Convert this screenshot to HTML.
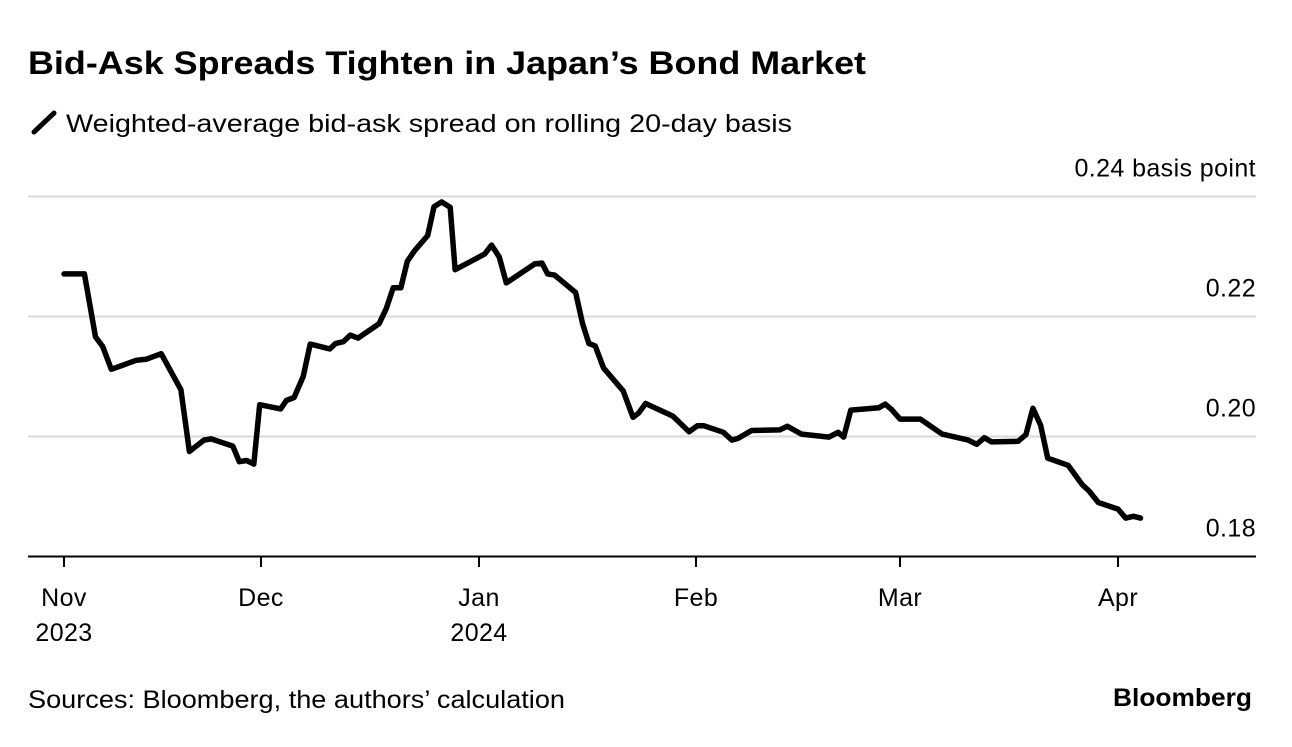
<!DOCTYPE html>
<html><head><meta charset="utf-8"><style>
body{margin:0;width:1292px;height:742px;background:#fff;overflow:hidden;font-family:"Liberation Sans",Arial,sans-serif}
</style></head><body>
<svg width="1292" height="742" font-family="Liberation Sans, Arial, sans-serif">
<text x="28" y="74" font-size="32" font-weight="bold" fill="#000" textLength="838" lengthAdjust="spacingAndGlyphs">Bid-Ask Spreads Tighten in Japan’s Bond Market</text>
<line x1="34" y1="132" x2="54" y2="113" stroke="#000" stroke-width="5" stroke-linecap="round"/>
<text x="66" y="132" font-size="25" fill="#000" textLength="726" lengthAdjust="spacingAndGlyphs">Weighted-average bid-ask spread on rolling 20-day basis</text>
<g id="grid"></g>
<g id="xaxis"></g>
<path id="line" fill="none" stroke="#000" stroke-width="5.5" stroke-linejoin="round" stroke-linecap="round"/>
<text x="28" y="708" font-size="25" fill="#000" textLength="537" lengthAdjust="spacingAndGlyphs">Sources: Bloomberg, the authors’ calculation</text>
<text x="1113" y="706" font-size="25" font-weight="bold" fill="#000" textLength="139" lengthAdjust="spacingAndGlyphs">Bloomberg</text>
</svg>
<script>
const days=[0,3.1,4.8,5.9,7.2,11.0,12.6,14.8,17.8,19.1,21.3,22.4,25.7,26.7,27.8,28.9,29.8,32.8,33.6,34.7,36.0,37.0,39.8,40.6,41.7,42.7,43.8,46.8,47.8,48.8,49.9,50.8,51.8,53.7,54.6,55.7,56.9,57.6,61.8,62.8,63.9,64.9,69.0,70.0,70.8,71.8,74.8,75.8,76.7,77.6,78.8,81.6,83.0,83.8,84.8,88.7,91.0,92.2,93.1,95.9,97.1,98.0,99.9,103.9,105.0,107.0,110.9,112.2,113.0,114.0,118.0,118.9,119.8,121.0,123.9,127.0,130.7,131.9,133.0,134.0,137.8,138.9,139.9,141.0,142.0,144.9,146.9,147.9,149.2,152.0,153.1,154.2,155.2];
const values=[0.2271,0.2271,0.2166,0.2150,0.2112,0.2127,0.2129,0.2138,0.2078,0.1975,0.1994,0.1996,0.1984,0.1958,0.1960,0.1954,0.2053,0.2046,0.2060,0.2065,0.2100,0.2154,0.2146,0.2155,0.2158,0.2169,0.2164,0.2188,0.2213,0.2248,0.2248,0.2292,0.2309,0.2335,0.2383,0.2391,0.2382,0.2278,0.2304,0.2319,0.2299,0.2256,0.2288,0.2289,0.2271,0.2269,0.2240,0.2188,0.2155,0.2151,0.2114,0.2076,0.2032,0.2039,0.2055,0.2034,0.2008,0.2018,0.2018,0.2007,0.1994,0.1997,0.2010,0.2011,0.2017,0.2004,0.1999,0.2007,0.1999,0.2044,0.2048,0.2054,0.2045,0.2029,0.2029,0.2004,0.1994,0.1987,0.1998,0.1991,0.1992,0.2003,0.2047,0.2019,0.1964,0.1952,0.1920,0.1909,0.1890,0.1879,0.1864,0.1867,0.1864];
const yTicks=[0.18,0.20,0.22,0.24];
const yLabels=["0.18","0.20","0.22","0.24 basis point"];
const monthDays=[0,30,61,92,121,152];
const monthLabels=["Nov","Dec","Jan","Feb","Mar","Apr"];
const yearLabels=["2023","","2024","","",""];
const monthPx=[64,261,479,696,900,1118];
const NS="http://www.w3.org/2000/svg";
function X(d){for(let i=0;i<monthDays.length-1;i++){if(d<=monthDays[i+1]||i==monthDays.length-2){const t=(d-monthDays[i])/(monthDays[i+1]-monthDays[i]);return monthPx[i]+t*(monthPx[i+1]-monthPx[i]);}}}
function Y(v){return 556.5-(v-0.18)/0.02*120;}
function mk(tag,attrs,parent){const e=document.createElementNS(NS,tag);for(const k in attrs)e.setAttribute(k,attrs[k]);parent.appendChild(e);return e;}
const grid=document.getElementById('grid');
yTicks.forEach((v,i)=>{
 if(i>0){const l=mk('line',{x1:28,x2:1256,y1:Y(v),y2:Y(v),stroke:'#d9d9d9','stroke-width':2},grid);
 
 }
 const t=mk('text',{x:1256,y:Y(v)-20,'font-size':25,'text-anchor':'end',fill:'#000','letter-spacing':'0.4'},grid);
 t.textContent=yLabels[i];
 
 
});
const xa=document.getElementById('xaxis');
const ax=mk('line',{x1:28,x2:1256,y1:556.5,y2:556.5,stroke:'#000','stroke-width':2},xa);


monthDays.forEach((d,i)=>{
 const x=X(d);
 const tk=mk('line',{x1:x,x2:x,y1:556,y2:567,stroke:'#000','stroke-width':2},xa);
 
 
 const t=mk('text',{x:x,y:606,'font-size':25,'text-anchor':'middle',fill:'#000','letter-spacing':'0.4'},xa);
 t.textContent=monthLabels[i];
 
 
 if(yearLabels[i]){const y=mk('text',{x:x,y:641,'font-size':25,'text-anchor':'middle',fill:'#000','letter-spacing':'0.4'},xa);
 y.textContent=yearLabels[i];
 
 }
});
document.getElementById('line').setAttribute('d',days.map((d,i)=>(i?'L':'M')+X(d).toFixed(1)+','+Y(values[i]).toFixed(1)).join(' '));
</script>
</body></html>
